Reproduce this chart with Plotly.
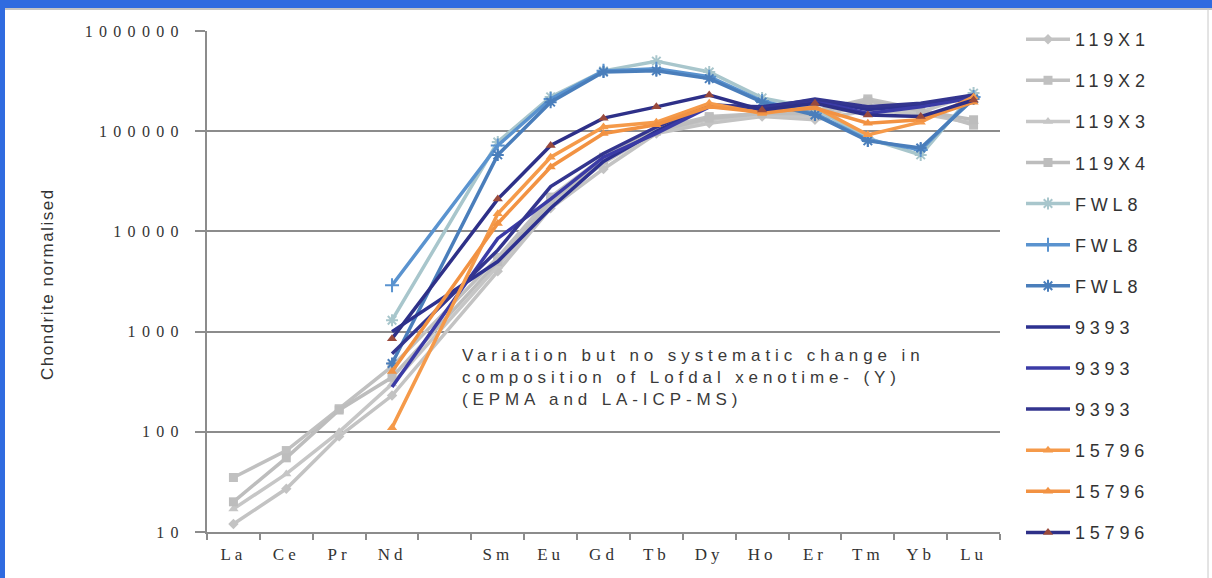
import plotly.graph_objects as go

# REE order; Pm is left as an empty slot between Nd and Sm
elements = ["La", "Ce", "Pr", "Nd", "", "Sm", "Eu", "Gd", "Tb", "Dy", "Ho", "Er", "Tm", "Yb", "Lu"]
positions = list(range(len(elements)))

# chondrite-normalised concentrations (None = not measured)
s119x1 = [12, 27, 90, 230, None, 4000, 17000, 42000, 95000, 120000, 140000, 130000, 160000, 150000, 120000]
s119x2 = [35, 65, 170, 450, None, 5500, 22000, 55000, 105000, 140000, 150000, 160000, 210000, 165000, 115000]
s119x3 = [17, 38, 100, 300, None, 4500, 19000, 48000, 100000, 130000, 145000, 140000, 180000, 155000, 235000]
s119x4 = [20, 55, 165, 350, None, 5000, 20000, 52000, 100000, 135000, 150000, 150000, 200000, 160000, 130000]
fwl8_a = [None, None, None, 1300, None, 78000, 220000, 400000, 500000, 390000, 215000, 170000, 85000, 58000, 240000]
fwl8_b = [None, None, None, 2900, None, 72000, 210000, 400000, 420000, 350000, 200000, 150000, 82000, 65000, 220000]
fwl8_c = [None, None, None, 480, None, 58000, 195000, 390000, 400000, 335000, 195000, 145000, 80000, 68000, 210000]
s9393_a = [None, None, None, 1000, None, 5000, 17000, 50000, 100000, 180000, 175000, 205000, 165000, 180000, 225000]
s9393_b = [None, None, None, 280, None, 8500, 21000, 55000, 95000, 175000, 165000, 200000, 150000, 175000, 215000]
s9393_c = [None, None, None, 600, None, 6500, 28000, 60000, 110000, 185000, 170000, 210000, 175000, 190000, 230000]
s15796_a = [None, None, None, 110, None, 15000, 55000, 110000, 123000, 190000, 150000, 175000, 92000, 123000, 220000]
s15796_b = [None, None, None, 400, None, 12000, 44000, 95000, 116000, 175000, 155000, 170000, 120000, 130000, 195000]
s15796_c = [None, None, None, 850, None, 21000, 72000, 135000, 175000, 230000, 163000, 190000, 145000, 140000, 205000]

y_tick_vals = [10, 100, 1000, 10000, 100000, 1000000]
y_tick_text = ["10", "100", "1000", "10000", "100000", "1000000"]


def spaced(text, px):
    """Wrap text in a span with extra letter spacing (wide lettering)."""
    return f'<span style="letter-spacing:{px}px">{text}</span>'


series = [
    ("119X1", s119x1, "#c3c3c3", "diamond", "#c3c3c3", 8),
    ("119X2", s119x2, "#c0c0c0", "square", "#c0c0c0", 9),
    ("119X3", s119x3, "#c6c6c6", "triangle-up", "#c6c6c6", 9),
    ("119X4", s119x4, "#bdbdbd", "square", "#bdbdbd", 9),
    ("FWL8", fwl8_a, "#a8c6cc", "asterisk-open", "#a8c6cc", 10),
    ("FWL8", fwl8_b, "#5a93cf", "cross-thin-open", "#5a93cf", 10),
    ("FWL8", fwl8_c, "#4a7ebb", "asterisk-open", "#4a7ebb", 10),
    ("9393", s9393_a, "#2d3190", None, None, 0),
    ("9393", s9393_b, "#3b3ba6", None, None, 0),
    ("9393", s9393_c, "#33358f", None, None, 0),
    ("15796", s15796_a, "#f59a4a", "triangle-up", "#f59a4a", 9),
    ("15796", s15796_b, "#f29242", "triangle-up", "#f29242", 9),
    ("15796", s15796_c, "#2e3088", "triangle-up", "#9a4a3c", 9),
]

fig = go.Figure()
for i, (name, vals, color, symbol, mcolor, msize) in enumerate(series):
    if symbol is None:
        marker = dict(size=1, color=color)
        mode = "lines"
    else:
        lw = 2 if symbol.endswith("open") else 0
        marker = dict(symbol=symbol, size=msize, color=mcolor,
                      line=dict(width=lw, color=mcolor))
        mode = "lines+markers"
    fig.add_trace(go.Scatter(
        x=positions, y=vals, name=spaced(name, 4.8), mode=mode,
        line=dict(color=color, width=3.5), marker=marker,
        connectgaps=True, legendgroup=f"g{i}",
    ))

fig.update_layout(
    width=1212, height=578,
    margin=dict(l=207, r=212, t=31, b=46),
    paper_bgcolor="white", plot_bgcolor="white",
    showlegend=True,
    legend=dict(
        x=(1021 - 207) / 793, xanchor="left", y=1.02, yanchor="top",
        font=dict(family="Liberation Sans, Arial, sans-serif", size=18, color="#333333"),
        tracegroupgap=14.7, itemwidth=44, bgcolor="rgba(0,0,0,0)",
        maxheight=600,
    ),
    xaxis=dict(
        range=[-0.5, 14.5], tickvals=positions,
        ticktext=[spaced(e, 4) if e else "" for e in elements],
        ticks="", showgrid=False, zeroline=False,
        showline=True, linecolor="#8c8c8c", linewidth=2,
        ticklabelstandoff=6,
        tickfont=dict(family="Liberation Serif, Times New Roman, serif", size=17, color="#333333"),
        minor=dict(ticks="outside", tick0=-0.5, dtick=1, ticklen=6, tickcolor="#8c8c8c", tickwidth=2),
        fixedrange=True,
    ),
    yaxis=dict(
        type="log", range=[1, 6], tickvals=y_tick_vals,
        ticktext=[spaced(t, 6.3) for t in y_tick_text],
        showgrid=True, gridcolor="#8c8c8c", gridwidth=2,
        showline=True, linecolor="#8c8c8c", linewidth=2,
        ticks="outside", ticklen=10, tickcolor="#8c8c8c", tickwidth=2,
        ticklabelstandoff=7,
        tickfont=dict(family="Liberation Serif, Times New Roman, serif", size=16, color="#333333"),
        zeroline=False, fixedrange=True,
    ),
)

# Axis title
fig.add_annotation(
    text=spaced("Chondrite normalised", 1.5), textangle=-90,
    xref="paper", yref="paper", x=(47 - 207) / 793, y=(532 - 284) / 501,
    xanchor="center", yanchor="middle", showarrow=False,
    font=dict(family="Liberation Sans, Arial, sans-serif", size=17, color="#333333"),
)

# Note inside plot
note_lines = ["Variation but no systematic change in",
              "composition of Lofdal xenotime- (Y)",
              "(EPMA and LA-ICP-MS)"]
fig.add_annotation(
    text="<br>".join(spaced(s, 4.9) for s in note_lines),
    xref="paper", yref="paper", x=(460 - 207) / 793, y=(532 - 344) / 501,
    xanchor="left", yanchor="top", align="left", showarrow=False,
    font=dict(family="Liberation Sans, Arial, sans-serif", size=17, color="#3a3a3a"),
)

# Frame: blue band on top and left, thin grey edges
top_px = 532  # paper-y distance (px) from plot bottom to page top
fig.add_shape(type="rect", xref="paper", yref="paper",
              x0=-207 / 793, x1=(1212 - 207) / 793,
              y0=(top_px - 8) / 501, y1=top_px / 501,
              line=dict(width=0), fillcolor="#2f6be0", layer="above")
fig.add_shape(type="rect", xref="paper", yref="paper",
              x0=-207 / 793, x1=-202 / 793,
              y0=-46 / 501, y1=top_px / 501,
              line=dict(width=0), fillcolor="#2f6be0", layer="above")
fig.add_shape(type="line", xref="paper", yref="paper",
              x0=-202 / 793, x1=(1212 - 207) / 793,
              y0=(top_px - 9) / 501, y1=(top_px - 9) / 501,
              line=dict(width=1.5, color="#b0b0b0"), layer="above")
fig.add_shape(type="line", xref="paper", yref="paper",
              x0=(1208 - 207) / 793, x1=(1208 - 207) / 793,
              y0=-46 / 501, y1=(top_px - 9) / 501,
              line=dict(width=1, color="#c8c8c8"), layer="above")

fig.write_html("out.html")
